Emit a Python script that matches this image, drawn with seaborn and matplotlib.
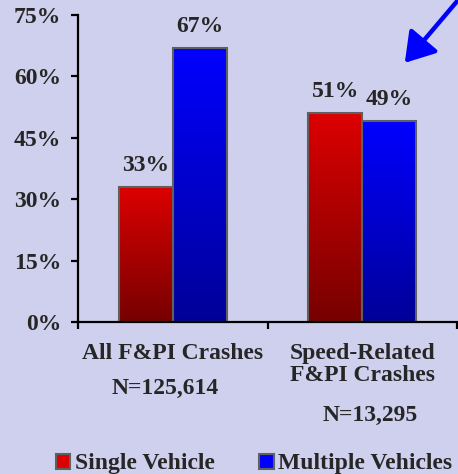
import numpy as np
import pandas as pd
import seaborn as sns
import matplotlib.pyplot as plt
from matplotlib.patches import FancyArrowPatch, Patch
import matplotlib.colors as mcolors

# data
categories = ["All F&PI Crashes", "Speed-Related\nF&PI Crashes"]
counts = ["N=125,614", "N=13,295"]
series = ["Single Vehicle", "Multiple Vehicles"]
single_vehicle = [33, 51]
multiple_vehicles = [67, 49]
yticks = [0, 15, 30, 45, 60, 75]

df = pd.DataFrame({
    "cat": categories * 2,
    "series": [series[0]] * 2 + [series[1]] * 2,
    "pct": single_vehicle + multiple_vehicles,
})

bg = "#CFD0EE"
grad = {series[0]: ("#DD0000", "#760000"), series[1]: ("#0000FF", "#000098")}
fs = 17

sns.set_style("white")
plt.rcParams["font.family"] = ["Liberation Serif", "DejaVu Serif"]
plt.rcParams["font.weight"] = "bold"

fig = plt.figure(figsize=(4.58, 4.74), dpi=100, facecolor=bg)
ax = fig.add_axes([78 / 458, 1 - 322 / 474, 379 / 458, 307 / 474])
ax.set_facecolor(bg)

sns.barplot(data=df, x="cat", y="pct", hue="series", order=categories,
            hue_order=series, width=0.57, ax=ax, legend=False,
            edgecolor="#606060", linewidth=1.5, saturation=1)

# gradient fills
for bars, s in zip(ax.containers, series):
    cmap = mcolors.LinearSegmentedColormap.from_list(s, [grad[s][1], grad[s][0]])
    for p in bars:
        x0, y0 = p.get_x(), p.get_y()
        w, h = p.get_width(), p.get_height()
        im = ax.imshow(np.linspace(0, 1, 256).reshape(-1, 1), cmap=cmap,
                       extent=[x0, x0 + w, y0, y0 + h], origin="lower",
                       aspect="auto", zorder=p.get_zorder() - 0.1)
        im.set_clip_path(p)
        p.set_facecolor("none")
    ax.bar_label(bars, labels=[f"{int(v)}%" for v in bars.datavalues],
                 padding=8, fontsize=fs, fontweight="bold")
ax.set_xlim(-0.5, 1.5)
ax.set_ylim(0, 75)

# axes styling
for side in ["top", "right"]:
    ax.spines[side].set_visible(False)
for side in ["left", "bottom"]:
    ax.spines[side].set_color("black")
    ax.spines[side].set_linewidth(1.6)

ax.set_yticks(yticks)
ax.set_yticklabels([f"{t}%" for t in yticks], fontsize=fs, fontweight="bold")
ax.tick_params(axis="y", direction="out", length=5, width=1.6, color="black", pad=7, left=True)

ax.set_xticks(range(len(categories)))
ax.set_xticklabels(categories, fontsize=fs, fontweight="bold", linespacing=1.1)
ax.set_xticks([-0.5, 0.5, 1.5], minor=True)
ax.tick_params(axis="x", which="major", length=0, pad=15)
ax.tick_params(axis="x", which="minor", direction="out", length=5, width=1.6,
               color="black", bottom=True)
ax.set_xlabel("")
ax.set_ylabel("")

# N labels under categories
trans = ax.get_xaxis_transform()
for i, (n, c) in enumerate(zip(counts, categories)):
    nlines = c.count("\n") + 1
    ax.text(i - 0.04 + 0.08 * i, -0.128 - 0.088 * nlines, n, transform=trans,
            ha="center", va="center", fontsize=fs, fontweight="bold")

# legend
handles = [Patch(facecolor=grad[s][0], edgecolor="#606060", linewidth=1.5, label=s)
           for s in series]
fig.legend(handles=handles, loc="center", bbox_to_anchor=(0.555, 1 - 464 / 474),
           ncol=2, frameon=False, handlelength=0.6, handleheight=0.6,
           handletextpad=0.2, columnspacing=1.9, prop={"weight": "bold", "size": fs})

# arrow
arrow = FancyArrowPatch((470 / 458, 1 + 14 / 474), (403 / 458, 1 - 65 / 474),
                        transform=fig.transFigure, arrowstyle="-|>,head_length=11,head_width=7",
                        color="#0000FF", linewidth=3.2, mutation_scale=1.6)
fig.add_artist(arrow)

fig.savefig("out.png", dpi=100, facecolor=bg)
